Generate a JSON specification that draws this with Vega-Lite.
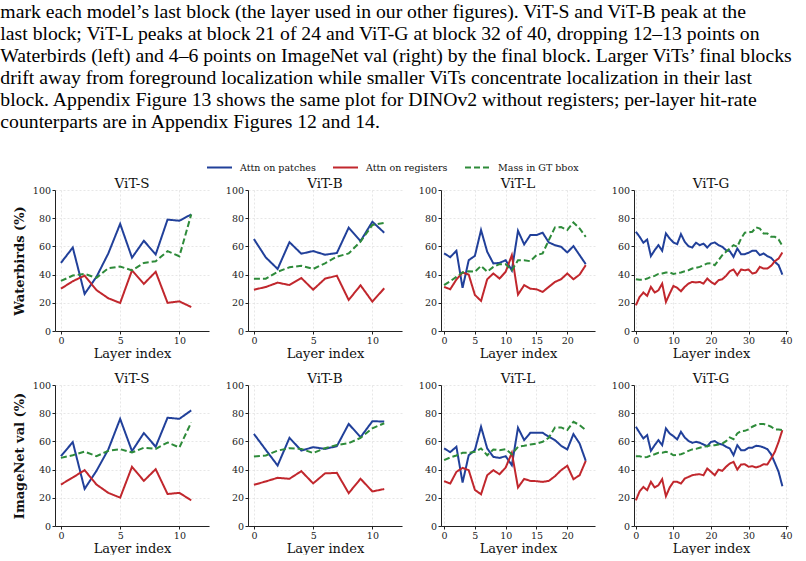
{
"$schema": "https://vega.github.io/schema/vega-lite/v6.json",
"padding": {"left": 0, "top": 2, "right": 0, "bottom": 0},
"title": {
 "text": [
  "mark each model’s last block (the layer used in our other figures).  ViT-S and ViT-B peak at the",
  "last block; ViT-L peaks at block 21 of 24 and ViT-G at block 32 of 40, dropping 12–13 points on",
  "Waterbirds (left) and 4–6 points on ImageNet val (right) by the final block. Larger ViTs’ final blocks",
  "drift away from foreground localization while smaller ViTs concentrate localization in their last",
  "block.  Appendix Figure 13 shows the same plot for DINOv2 without registers; per-layer hit-rate",
  "counterparts are in Appendix Figures 12 and 14."
 ],
 "anchor": "start", "frame": "bounds", "dx": -13,
 "font": "Liberation Serif", "fontSize": 19.7, "fontWeight": "normal", "color": "#000",
 "lineHeight": 22, "offset": 22
},
"datasets": {
 "WS": [
  {"l":0,"P":48.3,"R":30,"M":35.5},{"l":1,"P":59.2,"R":35.3,"M":39.3},{"l":2,"P":26.3,"R":39.3,"M":40.5},{"l":3,"P":38.4,"R":29,"M":37.7},{"l":4,"P":55,"R":23.2,"M":44.5},{"l":5,"P":76,"R":19.9,"M":45.7},{"l":6,"P":52,"R":43,"M":43},{"l":7,"P":64,"R":33.4,"M":48.3},{"l":8,"P":54.3,"R":42,"M":49.5},{"l":9,"P":79,"R":20,"M":56.6},{"l":10,"P":78.2,"R":21,"M":53},{"l":11,"P":82.7,"R":17,"M":82.7}
 ],
 "WB": [
  {"l":0,"P":65.2,"R":29.3,"M":37.1},{"l":1,"P":52.2,"R":31.2,"M":37.1},{"l":2,"P":44,"R":34.3,"M":42},{"l":3,"P":63,"R":32.6,"M":45.2},{"l":4,"P":54.8,"R":37.6,"M":46.3},{"l":5,"P":56.7,"R":29.3,"M":44},{"l":6,"P":54.1,"R":37.1,"M":48},{"l":7,"P":55.3,"R":39.2,"M":52.7},{"l":8,"P":73.3,"R":22,"M":55},{"l":9,"P":63.8,"R":32.4,"M":63.4},{"l":10,"P":77.5,"R":20.8,"M":75.2},{"l":11,"P":69.7,"R":30.3,"M":76.6}
 ],
 "WL": [
  {"l":0,"P":55,"R":31.3,"M":32.5},{"l":1,"P":52.4,"R":29.6,"M":35.3},{"l":2,"P":56.9,"R":36.5,"M":38.4},{"l":3,"P":30.6,"R":41.5,"M":41.5},{"l":4,"P":50.2,"R":40,"M":42.4},{"l":5,"P":53.3,"R":25.6,"M":42},{"l":6,"P":71.6,"R":21.3,"M":46.2},{"l":7,"P":56.2,"R":36.7,"M":42},{"l":8,"P":47.9,"R":40.8,"M":45.5},{"l":9,"P":48.3,"R":37.2,"M":47.4},{"l":10,"P":50.2,"R":42,"M":47.4},{"l":11,"P":43,"R":53.8,"M":43.1},{"l":12,"P":71.1,"R":25.8,"M":50.2},{"l":13,"P":61.4,"R":32.5,"M":50.2},{"l":14,"P":68,"R":30,"M":49.5},{"l":15,"P":68,"R":29.6,"M":53.8},{"l":16,"P":69.7,"R":27.7,"M":55},{"l":17,"P":62.8,"R":31.3,"M":64.5},{"l":18,"P":60.9,"R":34.8,"M":73.5},{"l":19,"P":59.7,"R":36.7,"M":73.7},{"l":20,"P":55.7,"R":40.8,"M":71.6},{"l":21,"P":60.2,"R":36.7,"M":77},{"l":22,"P":53.8,"R":40,"M":72.7},{"l":23,"P":47.4,"R":46.7,"M":66.8}
 ],
 "WG": [
  {"l":0,"P":70.4,"R":18.2,"M":36.7},{"l":1,"P":66.8,"R":24.2,"M":36.3},{"l":2,"P":62.6,"R":27.3,"M":36.3},{"l":3,"P":64.9,"R":24.9,"M":37.2},{"l":4,"P":53.1,"R":31.3,"M":38.4},{"l":5,"P":57.3,"R":27.3,"M":39.1},{"l":6,"P":60.9,"R":28.9,"M":40.5},{"l":7,"P":56.9,"R":33.6,"M":40.8},{"l":8,"P":69.2,"R":20.6,"M":41.5},{"l":9,"P":65.6,"R":26.5,"M":41.5},{"l":10,"P":62.8,"R":32,"M":40.5},{"l":11,"P":61.6,"R":30.6,"M":41},{"l":12,"P":68.7,"R":28.2,"M":41.5},{"l":13,"P":63.3,"R":31.3,"M":42.4},{"l":14,"P":60.2,"R":33.6,"M":43.1},{"l":15,"P":59.2,"R":34.8,"M":44.3},{"l":16,"P":62.6,"R":34.4,"M":44.8},{"l":17,"P":60.9,"R":34.8,"M":45.5},{"l":18,"P":62,"R":33.6,"M":46.7},{"l":19,"P":59.2,"R":37.2,"M":47.9},{"l":20,"P":62,"R":34.8,"M":48.1},{"l":21,"P":62.8,"R":33.2,"M":46.7},{"l":22,"P":60.9,"R":36,"M":50.2},{"l":23,"P":59.7,"R":36.7,"M":53.8},{"l":24,"P":57.3,"R":39.1,"M":56.2},{"l":25,"P":56.6,"R":42.4,"M":58.5},{"l":26,"P":52.6,"R":43.6,"M":60.9},{"l":27,"P":58.5,"R":39.6,"M":59.7},{"l":28,"P":54.5,"R":43.6,"M":65.6},{"l":29,"P":54.5,"R":43.1,"M":69.7},{"l":30,"P":55.5,"R":43.6,"M":69.9},{"l":31,"P":56.9,"R":40.8,"M":70.4},{"l":32,"P":56.9,"R":41.5,"M":73.5},{"l":33,"P":53.8,"R":45.5,"M":72.7},{"l":34,"P":55,"R":44.3,"M":69.2},{"l":35,"P":53.1,"R":44.3,"M":69.2},{"l":36,"P":51.9,"R":46.2,"M":66.8},{"l":37,"P":49,"R":49.5,"M":66.8},{"l":38,"P":46.7,"R":51.4,"M":64.9},{"l":39,"P":40,"R":55.7,"M":60.4}
 ],
 "IS": [
  {"l":0,"P":49.5,"R":29.4,"M":48.3},{"l":1,"P":59.5,"R":34.4,"M":50.2},{"l":2,"P":26.3,"R":39.6,"M":52.8},{"l":3,"P":39.1,"R":29.4,"M":49.5},{"l":4,"P":54.3,"R":23.5,"M":53.3},{"l":5,"P":76,"R":20.1,"M":54.5},{"l":6,"P":53.1,"R":42,"M":52.1},{"l":7,"P":65.9,"R":32,"M":55.5},{"l":8,"P":56.2,"R":40.3,"M":54.7},{"l":9,"P":76.8,"R":22.7,"M":59.2},{"l":10,"P":76,"R":23.5,"M":55.7},{"l":11,"P":82,"R":18.2,"M":73.5}
 ],
 "IB": [
  {"l":0,"P":65.3,"R":29.2,"M":49.3},{"l":1,"P":54,"R":31.6,"M":50},{"l":2,"P":42.9,"R":34.2,"M":53.5},{"l":3,"P":62.5,"R":33.5,"M":55.2},{"l":4,"P":53.5,"R":38.9,"M":54.7},{"l":5,"P":55.9,"R":30.2,"M":51.7},{"l":6,"P":54.7,"R":37.3,"M":55.2},{"l":7,"P":56.6,"R":37.7,"M":57.5},{"l":8,"P":72.4,"R":23.3,"M":58.7},{"l":9,"P":63,"R":33.5,"M":62.5},{"l":10,"P":74.3,"R":24.5,"M":69.3},{"l":11,"P":74.1,"R":26.2,"M":72.9}
 ],
 "IL": [
  {"l":0,"P":55,"R":31.8,"M":46.7},{"l":1,"P":52.4,"R":30.1,"M":48.6},{"l":2,"P":56.2,"R":38.4,"M":50},{"l":3,"P":30.8,"R":41.2,"M":51.9},{"l":4,"P":50.2,"R":39.6,"M":51.9},{"l":5,"P":53.8,"R":25.6,"M":52.6},{"l":6,"P":70.4,"R":22.5,"M":55},{"l":7,"P":55,"R":36,"M":50.2},{"l":8,"P":49,"R":39.6,"M":54.3},{"l":9,"P":48.3,"R":36.7,"M":53.8},{"l":10,"P":49.5,"R":41.5,"M":54.5},{"l":11,"P":43.1,"R":51.9,"M":50.9},{"l":12,"P":69.7,"R":27.3,"M":56.2},{"l":13,"P":60.9,"R":33.4,"M":56.9},{"l":14,"P":66.1,"R":32,"M":57.8},{"l":15,"P":66.1,"R":31.8,"M":58.5},{"l":16,"P":66.1,"R":31.3,"M":59.7},{"l":17,"P":63.3,"R":32,"M":62.6},{"l":18,"P":60.9,"R":35.3,"M":69.9},{"l":19,"P":56.9,"R":39.6,"M":69.9},{"l":20,"P":54.3,"R":42.7,"M":68},{"l":21,"P":65.2,"R":33.2,"M":73.9},{"l":22,"P":58.5,"R":36,"M":71.6},{"l":23,"P":46.2,"R":46.2,"M":68}
 ],
 "IG": [
  {"l":0,"P":70.4,"R":18.2,"M":49.5},{"l":1,"P":66.1,"R":24.6,"M":49.5},{"l":2,"P":62.1,"R":27.7,"M":48.6},{"l":3,"P":64.5,"R":25.4,"M":49},{"l":4,"P":53.3,"R":31.3,"M":50},{"l":5,"P":57.3,"R":27.3,"M":50.9},{"l":6,"P":60.9,"R":28.9,"M":51.9},{"l":7,"P":57.3,"R":33.2,"M":51.9},{"l":8,"P":69.2,"R":21.1,"M":52.6},{"l":9,"P":65.6,"R":27.3,"M":51.9},{"l":10,"P":63.7,"R":31.3,"M":50.2},{"l":11,"P":61.4,"R":31.3,"M":50.5},{"l":12,"P":66.8,"R":30.1,"M":50.9},{"l":13,"P":62.8,"R":33.6,"M":51.9},{"l":14,"P":60.4,"R":34.8,"M":53.3},{"l":15,"P":59,"R":36,"M":54.3},{"l":16,"P":59.7,"R":36.5,"M":54.7},{"l":17,"P":59,"R":36.7,"M":55.5},{"l":18,"P":57.8,"R":36,"M":56.2},{"l":19,"P":56.6,"R":40.8,"M":56.6},{"l":20,"P":59.7,"R":38.4,"M":57.3},{"l":21,"P":60.2,"R":36,"M":57.3},{"l":22,"P":58.5,"R":40,"M":57.8},{"l":23,"P":57.8,"R":39.1,"M":58.5},{"l":24,"P":56.2,"R":42,"M":60.2},{"l":25,"P":55,"R":44.3,"M":62.8},{"l":26,"P":50.2,"R":45.5,"M":61.6},{"l":27,"P":57.3,"R":40,"M":65.6},{"l":28,"P":53.8,"R":43.6,"M":67.3},{"l":29,"P":53.8,"R":43.8,"M":67.5},{"l":30,"P":55.5,"R":42,"M":68.5},{"l":31,"P":55.5,"R":42.4,"M":70.4},{"l":32,"P":56.9,"R":41.5,"M":71.6},{"l":33,"P":56.6,"R":42.4,"M":72.3},{"l":34,"P":55.7,"R":43.8,"M":72.3},{"l":35,"P":54.5,"R":43.6,"M":71.6},{"l":36,"P":50.9,"R":47.9,"M":70.4},{"l":37,"P":44.8,"R":52.6,"M":68.5},{"l":38,"P":38.4,"R":59.7,"M":68.5},{"l":39,"P":28.2,"R":68,"M":68}
 ]
},
"spacing": 11,
"vconcat": [
 {"spacing": 16, "hconcat": [
  {"data":{"name":"WS"},"width":154,"height":141,"title":"ViT-S","transform":[{"fold":["P","R","M"],"as":["s","v"]}],"mark":{"type":"line","strokeWidth":2},
   "encoding":{"x":{"field":"l","type":"quantitative","scale":{"domain":[-0.5,12.5],"nice":false,"zero":false},"axis":{"values":[0,5,10],"title":"Layer index"}},
    "y":{"field":"v","type":"quantitative","scale":{"domain":[0,100],"nice":false},"axis":{"values":[0,20,40,60,80,100],"title":"Waterbirds (%)"}},
    "color":{"field":"s","type":"nominal","scale":{"domain":["P","R","M"],"range":["#21409a","#c1272d","#2e8b3a"]},"legend":{"title":null,"orient":"none","legendX":151,"legendY":-36,"direction":"horizontal","labelExpr":"datum.label=='P'?'Attn on patches':datum.label=='R'?'Attn on registers':'Mass in GT bbox'"}},
    "strokeDash":{"field":"s","type":"nominal","scale":{"domain":["P","R","M"],"range":[[1,0],[1,0],[6,3]]}}}},
  {"data":{"name":"WB"},"width":154,"height":141,"title":"ViT-B","transform":[{"fold":["P","R","M"],"as":["s","v"]}],"mark":{"type":"line","strokeWidth":2},
   "encoding":{"x":{"field":"l","type":"quantitative","scale":{"domain":[-0.5,12.5],"nice":false,"zero":false},"axis":{"values":[0,5,10],"title":"Layer index"}},
    "y":{"field":"v","type":"quantitative","scale":{"domain":[0,100],"nice":false},"axis":{"values":[0,20,40,60,80,100],"title":null}},
    "color":{"field":"s","type":"nominal","scale":{"domain":["P","R","M"],"range":["#21409a","#c1272d","#2e8b3a"]},"legend":{"title":null,"orient":"none","legendX":151,"legendY":-36,"direction":"horizontal","labelExpr":"datum.label=='P'?'Attn on patches':datum.label=='R'?'Attn on registers':'Mass in GT bbox'"}},
    "strokeDash":{"field":"s","type":"nominal","scale":{"domain":["P","R","M"],"range":[[1,0],[1,0],[6,3]]}}}},
  {"data":{"name":"WL"},"width":154,"height":141,"title":"ViT-L","transform":[{"fold":["P","R","M"],"as":["s","v"]}],"mark":{"type":"line","strokeWidth":2},
   "encoding":{"x":{"field":"l","type":"quantitative","scale":{"domain":[-0.5,24.5],"nice":false,"zero":false},"axis":{"values":[0,5,10,15,20],"title":"Layer index"}},
    "y":{"field":"v","type":"quantitative","scale":{"domain":[0,100],"nice":false},"axis":{"values":[0,20,40,60,80,100],"title":null}},
    "color":{"field":"s","type":"nominal","scale":{"domain":["P","R","M"],"range":["#21409a","#c1272d","#2e8b3a"]},"legend":{"title":null,"orient":"none","legendX":151,"legendY":-36,"direction":"horizontal","labelExpr":"datum.label=='P'?'Attn on patches':datum.label=='R'?'Attn on registers':'Mass in GT bbox'"}},
    "strokeDash":{"field":"s","type":"nominal","scale":{"domain":["P","R","M"],"range":[[1,0],[1,0],[6,3]]}}}},
  {"data":{"name":"WG"},"width":154,"height":141,"title":"ViT-G","transform":[{"fold":["P","R","M"],"as":["s","v"]}],"mark":{"type":"line","strokeWidth":2},
   "encoding":{"x":{"field":"l","type":"quantitative","scale":{"domain":[-0.5,40.5],"nice":false,"zero":false},"axis":{"values":[0,10,20,30,40],"title":"Layer index"}},
    "y":{"field":"v","type":"quantitative","scale":{"domain":[0,100],"nice":false},"axis":{"values":[0,20,40,60,80,100],"title":null}},
    "color":{"field":"s","type":"nominal","scale":{"domain":["P","R","M"],"range":["#21409a","#c1272d","#2e8b3a"]},"legend":{"title":null,"orient":"none","legendX":151,"legendY":-36,"direction":"horizontal","labelExpr":"datum.label=='P'?'Attn on patches':datum.label=='R'?'Attn on registers':'Mass in GT bbox'"}},
    "strokeDash":{"field":"s","type":"nominal","scale":{"domain":["P","R","M"],"range":[[1,0],[1,0],[6,3]]}}}}
 ]},
 {"spacing": 16, "hconcat": [
  {"data":{"name":"IS"},"width":154,"height":141,"title":"ViT-S","transform":[{"fold":["P","R","M"],"as":["s","v"]}],"mark":{"type":"line","strokeWidth":2},
   "encoding":{"x":{"field":"l","type":"quantitative","scale":{"domain":[-0.5,12.5],"nice":false,"zero":false},"axis":{"values":[0,5,10],"title":"Layer index"}},
    "y":{"field":"v","type":"quantitative","scale":{"domain":[0,100],"nice":false},"axis":{"values":[0,20,40,60,80,100],"title":"ImageNet val (%)"}},
    "color":{"field":"s","type":"nominal","scale":{"domain":["P","R","M"],"range":["#21409a","#c1272d","#2e8b3a"]},"legend":{"title":null,"orient":"none","legendX":151,"legendY":-36,"direction":"horizontal","labelExpr":"datum.label=='P'?'Attn on patches':datum.label=='R'?'Attn on registers':'Mass in GT bbox'"}},
    "strokeDash":{"field":"s","type":"nominal","scale":{"domain":["P","R","M"],"range":[[1,0],[1,0],[6,3]]}}}},
  {"data":{"name":"IB"},"width":154,"height":141,"title":"ViT-B","transform":[{"fold":["P","R","M"],"as":["s","v"]}],"mark":{"type":"line","strokeWidth":2},
   "encoding":{"x":{"field":"l","type":"quantitative","scale":{"domain":[-0.5,12.5],"nice":false,"zero":false},"axis":{"values":[0,5,10],"title":"Layer index"}},
    "y":{"field":"v","type":"quantitative","scale":{"domain":[0,100],"nice":false},"axis":{"values":[0,20,40,60,80,100],"title":null}},
    "color":{"field":"s","type":"nominal","scale":{"domain":["P","R","M"],"range":["#21409a","#c1272d","#2e8b3a"]},"legend":{"title":null,"orient":"none","legendX":151,"legendY":-36,"direction":"horizontal","labelExpr":"datum.label=='P'?'Attn on patches':datum.label=='R'?'Attn on registers':'Mass in GT bbox'"}},
    "strokeDash":{"field":"s","type":"nominal","scale":{"domain":["P","R","M"],"range":[[1,0],[1,0],[6,3]]}}}},
  {"data":{"name":"IL"},"width":154,"height":141,"title":"ViT-L","transform":[{"fold":["P","R","M"],"as":["s","v"]}],"mark":{"type":"line","strokeWidth":2},
   "encoding":{"x":{"field":"l","type":"quantitative","scale":{"domain":[-0.5,24.5],"nice":false,"zero":false},"axis":{"values":[0,5,10,15,20],"title":"Layer index"}},
    "y":{"field":"v","type":"quantitative","scale":{"domain":[0,100],"nice":false},"axis":{"values":[0,20,40,60,80,100],"title":null}},
    "color":{"field":"s","type":"nominal","scale":{"domain":["P","R","M"],"range":["#21409a","#c1272d","#2e8b3a"]},"legend":{"title":null,"orient":"none","legendX":151,"legendY":-36,"direction":"horizontal","labelExpr":"datum.label=='P'?'Attn on patches':datum.label=='R'?'Attn on registers':'Mass in GT bbox'"}},
    "strokeDash":{"field":"s","type":"nominal","scale":{"domain":["P","R","M"],"range":[[1,0],[1,0],[6,3]]}}}},
  {"data":{"name":"IG"},"width":154,"height":141,"title":"ViT-G","transform":[{"fold":["P","R","M"],"as":["s","v"]}],"mark":{"type":"line","strokeWidth":2},
   "encoding":{"x":{"field":"l","type":"quantitative","scale":{"domain":[-0.5,40.5],"nice":false,"zero":false},"axis":{"values":[0,10,20,30,40],"title":"Layer index"}},
    "y":{"field":"v","type":"quantitative","scale":{"domain":[0,100],"nice":false},"axis":{"values":[0,20,40,60,80,100],"title":null}},
    "color":{"field":"s","type":"nominal","scale":{"domain":["P","R","M"],"range":["#21409a","#c1272d","#2e8b3a"]},"legend":{"title":null,"orient":"none","legendX":151,"legendY":-36,"direction":"horizontal","labelExpr":"datum.label=='P'?'Attn on patches':datum.label=='R'?'Attn on registers':'Mass in GT bbox'"}},
    "strokeDash":{"field":"s","type":"nominal","scale":{"domain":["P","R","M"],"range":[[1,0],[1,0],[6,3]]}}}}
 ]}
],
"config": {
 "view": {"stroke": null},
 "font": "DejaVu Serif",
 "title": {"font": "DejaVu Serif", "fontSize": 13.5, "fontWeight": "normal", "color": "#111", "anchor": "middle", "offset": -5},
 "axis": {"domainColor": "#222", "domainWidth": 1, "tickColor": "#222", "tickSize": 3, "tickWidth": 1,
  "labelFont": "DejaVu Serif", "labelFontSize": 9.5, "labelColor": "#222", "labelPadding": 1.5, "labelFlush": false, "labelOverlap": false,
  "titleFont": "DejaVu Serif", "titleFontSize": 13, "titleFontWeight": "normal", "titleColor": "#111",
  "grid": true, "gridColor": "#dcdcdc", "gridDash": [2, 2], "gridWidth": 0.7},
 "axisX": {"titlePadding": 2, "labelAngle": 0},
 "axisY": {"titleFontWeight": "bold", "titlePadding": 6},
 "legend": {"symbolType": "stroke", "symbolSize": 625, "symbolStrokeWidth": 2, "labelFont": "DejaVu Serif", "labelFontSize": 9.5, "labelColor": "#111", "columnPadding": 13, "labelOffset": 7}
}
}
